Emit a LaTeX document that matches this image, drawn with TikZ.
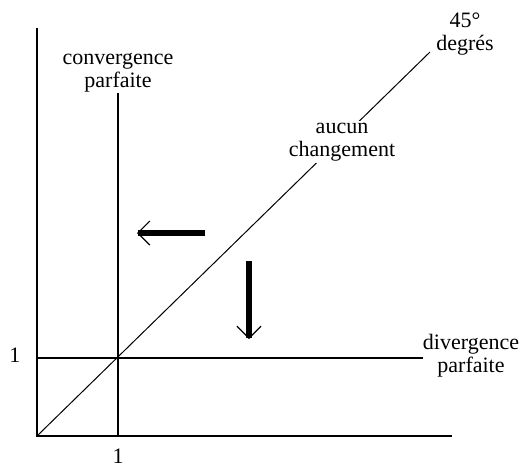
\documentclass[tikz,border=0pt]{standalone}
\usepackage{fontspec}
\setmainfont{Liberation Serif}
\usetikzlibrary{arrows.meta}

\begin{document}
\begin{tikzpicture}[x=0.5pt, y=-0.5pt, line width=0.7pt,
  lbl/.style={align=center, font=\fontsize{11}{11.5}\selectfont, inner sep=1pt},
  move/.style={line width=3pt, -{Straight Barb[line width=0.6pt, length=6pt, width=12pt]}}]
\useasboundingbox (0,0) rectangle (520,466);
% Axes and reference lines
\coordinate (origin) at (37,436);
\coordinate (ytop) at (37,28);
\coordinate (xend) at (452,436);
\coordinate (diagend) at (430,52);
\coordinate (convtop) at (118,93);
\coordinate (convbot) at (118,436);
\coordinate (divleft) at (37,358);
\coordinate (divend) at (423,358);

\draw (ytop) -- (origin) -- (xend);
\draw (convtop) -- (convbot);
\draw (divleft) -- (divend);
\draw[line width=0.5pt] (origin) -- (diagend);

% Labels
\node[lbl] (conv) at (118,73) {convergence\\parfaite};
\node[lbl] (deg) at (465,34) {45°\\degrés};
\node[lbl, fill=white] (aucun) at (342,142) {aucun\\changement};
\node[lbl] (div) at (471,356) {divergence\\parfaite};
\node[lbl] (oney) at (15,355) {1};
\node[lbl] (onex) at (118,456) {1};

% Arrows
\coordinate (leftstart) at (205,233);
\coordinate (leftend) at (137,233);
\coordinate (downstart) at (249,261);
\coordinate (downend) at (249,339);
\draw[move] (leftstart) -- (leftend);
\draw[move] (downstart) -- (downend);
\end{tikzpicture}
\end{document}
